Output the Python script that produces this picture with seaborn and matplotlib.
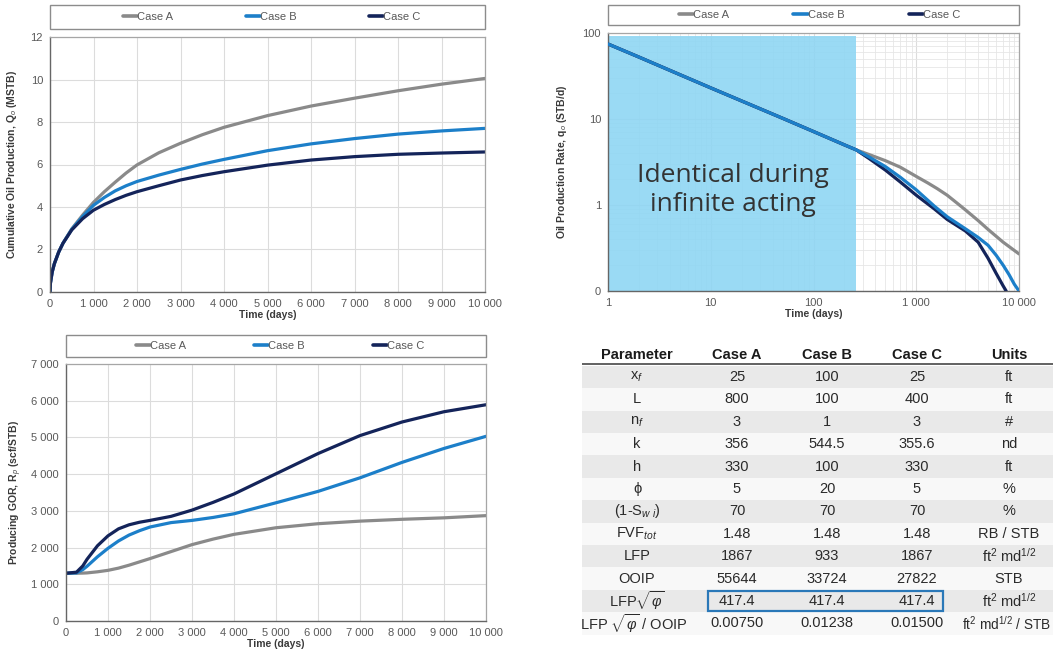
import numpy as np
import pandas as pd
import matplotlib
matplotlib.use("Agg")
import matplotlib.pyplot as plt
import seaborn as sns
from matplotlib.ticker import FuncFormatter, FixedLocator, FixedFormatter, LogLocator, NullFormatter
from matplotlib.patches import Rectangle
from matplotlib.lines import Line2D

# ---------------- data ----------------
cases = ["Case A", "Case B", "Case C"]
colors = {"Case A": "#8a8a8a", "Case B": "#1c7fc9", "Case C": "#14245a"}

# cumulative oil production (MSTB)
cum_t = [0, 10, 50, 100, 200, 300, 500, 750, 1000, 1250, 1500, 1750, 2000, 2500, 3000, 3500, 4000,
         5000, 6000, 7000, 8000, 9000, 10000]
cum_A = [0, 0.42, 0.94, 1.33, 1.88, 2.3, 2.97, 3.62, 4.22, 4.72, 5.17, 5.6, 5.98, 6.55, 7.0, 7.4, 7.75,
         8.3, 8.75, 9.12, 9.47, 9.78, 10.05]
cum_B = [0, 0.42, 0.94, 1.33, 1.88, 2.3, 2.95, 3.55, 4.08, 4.45, 4.76, 5.0, 5.2, 5.5, 5.77, 6.02, 6.24,
         6.65, 6.97, 7.22, 7.43, 7.58, 7.7]
cum_C = [0, 0.42, 0.94, 1.33, 1.88, 2.3, 2.92, 3.45, 3.85, 4.12, 4.35, 4.55, 4.72, 5.0, 5.27, 5.48, 5.66,
         5.97, 6.21, 6.37, 6.48, 6.54, 6.59]

# oil production rate (STB/d), log-log
rate_t_shared = [1, 2, 5, 10, 20, 50, 100, 200, 260]
rate_q_shared = [74.5, 52.5, 32.8, 23.0, 16.2, 10.2, 7.15, 5.0, 4.38]
rate_tA = [350, 500, 700, 1000, 1300, 1600, 2000, 2500, 3000, 4000, 5000, 7000, 10000]
rate_qA = [3.85, 3.28, 2.75, 2.15, 1.8, 1.55, 1.3, 1.05, 0.88, 0.66, 0.52, 0.37, 0.27]
rate_tB = [350, 500, 700, 1000, 1500, 2000, 3000, 4000, 5000, 6000, 7000, 8000, 9000, 10000]
rate_qB = [3.6, 2.8, 2.1, 1.5, 0.97, 0.73, 0.53, 0.42, 0.34, 0.26, 0.2, 0.155, 0.12, 0.1]
rate_tC = [350, 500, 700, 1000, 1500, 2000, 3000, 4000, 5000, 6000, 7000, 7500]
rate_qC = [3.45, 2.55, 1.85, 1.3, 0.9, 0.68, 0.5, 0.37, 0.24, 0.16, 0.115, 0.1]
infinite_acting_end = 260

# producing GOR (scf/STB)
gor_t = [0, 250, 400, 500, 750, 1000, 1250, 1500, 1750, 2000, 2500, 3000, 3500, 4000, 5000, 6000, 7000,
         8000, 9000, 10000]
gor_A = [1300, 1300, 1305, 1310, 1340, 1380, 1440, 1520, 1610, 1700, 1890, 2080, 2230, 2360, 2540, 2650,
         2720, 2770, 2810, 2870]
gor_B = [1300, 1310, 1400, 1490, 1750, 1980, 2180, 2340, 2460, 2560, 2680, 2740, 2820, 2920, 3220, 3530,
         3900, 4320, 4700, 5030]
gor_C = [1300, 1330, 1500, 1680, 2050, 2320, 2510, 2620, 2690, 2740, 2850, 3020, 3230, 3460, 4010, 4560,
         5050, 5420, 5700, 5890]

# table
tbl_header = ["Parameter", "Case A", "Case B", "Case C", "Units"]
tbl_param = [r"x$_f$", "L", r"n$_f$", "k", "h", "ϕ", r"(1-S$_{w\ i}$)", r"FVF$_{tot}$", "LFP", "OOIP",
             r"LFP$\sqrt{\varphi}$", r"LFP $\sqrt{\varphi}$ / OOIP"]
tbl_A = ["25", "800", "3", "356", "330", "5", "70", "1.48", "1867", "55644", "417.4", "0.00750"]
tbl_B = ["100", "100", "1", "544.5", "100", "20", "70", "1.48", "933", "33724", "417.4", "0.01238"]
tbl_C = ["25", "400", "3", "355.6", "330", "5", "70", "1.48", "1867", "27822", "417.4", "0.01500"]
tbl_units = ["ft", "ft", "#", "nd", "ft", "%", "%", "RB / STB", r"ft$^2$ md$^{1/2}$", "STB",
             r"ft$^2$ md$^{1/2}$", r"ft$^2$ md$^{1/2}$ / STB"]

# ---------------- style ----------------
sns.set_style("white")
plt.rcParams["font.family"] = ["Liberation Sans", "DejaVu Sans"]
plt.rcParams["mathtext.fontset"] = "custom"
plt.rcParams["mathtext.rm"] = "Liberation Sans"
plt.rcParams["mathtext.it"] = "Liberation Sans:italic"
plt.rcParams["mathtext.bf"] = "Liberation Sans:bold"

TICK_C = "#595959"
LAB_C = "#3a3a3a"
GRID_C = "#dcdcdc"

W, H = 1053, 656
fig = plt.figure(figsize=(W / 100, H / 100), dpi=100)


def px_axes(x0, y0, x1, y1):
    return fig.add_axes([x0 / W, 1 - y1 / H, (x1 - x0) / W, (y1 - y0) / H])


def thousands(v, p):
    return f"{int(round(v)):,}".replace(",", " ")


def style_axes(ax):
    for s in ["top", "right"]:
        ax.spines[s].set_color("#a6a6a6")
        ax.spines[s].set_linewidth(0.9)
    for s in ["left", "bottom"]:
        ax.spines[s].set_color("#666666")
        ax.spines[s].set_linewidth(1.0)
    ax.tick_params(axis="both", which="major", labelsize=8, colors="#666666", labelcolor=TICK_C,
                   length=3, width=0.8, direction="out", pad=2)
    ax.grid(True, which="major", color=GRID_C, linewidth=0.8)
    ax.set_axisbelow(True)


def add_legend(ax, gap, height, colspacing, xc=0.5):
    ax.add_patch(Rectangle((0, 1 + gap), 1, height, transform=ax.transAxes, fill=False,
                           edgecolor="#8c8c8c", lw=1.0, clip_on=False))
    handles = [Line2D([0], [0], color=colors[c], lw=2.6) for c in cases]
    leg = ax.legend(handles, cases, loc="center", bbox_to_anchor=(xc, 1 + gap + height / 2),
                    ncol=3, frameon=False, fontsize=8, handlelength=1.3,
                    handletextpad=0.0, columnspacing=colspacing, borderaxespad=0, borderpad=0)
    for t in leg.get_texts():
        t.set_color(TICK_C)
    return leg


def long_df(series):
    rows = []
    for name, (tt, vv) in series.items():
        for a, b in zip(tt, vv):
            rows.append((name, a, b))
    return pd.DataFrame(rows, columns=["case", "t", "v"])


# ---------------- top-left: cumulative ----------------
ax1 = px_axes(50, 37, 485, 292)
df1 = long_df({"Case A": (cum_t, cum_A), "Case B": (cum_t, cum_B), "Case C": (cum_t, cum_C)})
sns.lineplot(data=df1, x="t", y="v", hue="case", palette=colors, ax=ax1, linewidth=2.3,
             legend=False, sort=True, estimator=None)
ax1.set_xlim(0, 10000)
ax1.set_ylim(0, 12)
ax1.set_xticks(np.arange(0, 10001, 1000))
ax1.set_yticks(np.arange(0, 13, 2))
ax1.xaxis.set_major_formatter(FuncFormatter(thousands))
style_axes(ax1)
ax1.set_xlabel("Time (days)", fontsize=7.5, fontweight="bold", color=LAB_C, labelpad=1)
ax1.set_ylabel(r"Cumulative Oil Production, Q$_o$ (MSTB)", fontsize=7.5, fontweight="bold",
               color=LAB_C, labelpad=8)
add_legend(ax1, 8 / 255, 24 / 255, 6.5, 0.51)

# ---------------- top-right: rate ----------------
ax2 = px_axes(608, 33, 1019, 291)
tA = rate_t_shared + rate_tA
qA = rate_q_shared + rate_qA
tB = rate_t_shared + rate_tB
qB = rate_q_shared + rate_qB
tC = rate_t_shared + rate_tC
qC = rate_q_shared + rate_qC
ax2.set_xscale("log")
ax2.set_yscale("log")
ax2.fill_between([1, infinite_acting_end], 0.1, 92, color="#8fd6f3", alpha=0.9, zorder=1, linewidth=0)
for name, tt, qq in [("Case A", tA, qA), ("Case C", tC, qC), ("Case B", tB, qB)]:
    d = long_df({name: (tt, qq)})
    sns.lineplot(data=d, x="t", y="v", color=colors[name], ax=ax2, linewidth=2.3,
                 legend=False, sort=True, estimator=None, zorder=3)
ax2.set_xlim(1, 10000)
ax2.set_ylim(0.1, 100)
ax2.xaxis.set_major_locator(FixedLocator([1, 10, 100, 1000, 10000]))
ax2.xaxis.set_major_formatter(FixedFormatter(["1", "10", "100", "1 000", "10 000"]))
ax2.yaxis.set_major_locator(FixedLocator([0.1, 1, 10, 100]))
ax2.yaxis.set_major_formatter(FixedFormatter(["0", "1", "10", "100"]))
ax2.xaxis.set_minor_locator(LogLocator(base=10, subs=np.arange(2, 10)))
ax2.yaxis.set_minor_locator(LogLocator(base=10, subs=np.arange(2, 10)))
ax2.xaxis.set_minor_formatter(NullFormatter())
ax2.yaxis.set_minor_formatter(NullFormatter())
style_axes(ax2)
ax2.grid(True, which="minor", color="#e6e6e6", linewidth=0.6)
ax2.tick_params(axis="both", which="minor", length=2, width=0.6, colors="#666666")
ax2.set_xlabel("Time (days)", fontsize=7.5, fontweight="bold", color=LAB_C, labelpad=1)
ax2.set_ylabel(r"Oil Production Rate, q$_o$ (STB/d)", fontsize=7.5, fontweight="bold",
               color=LAB_C, labelpad=10)
ax2.text(0.304, 0.39, "Identical during\ninfinite acting", transform=ax2.transAxes,
         ha="center", va="center", fontsize=19, color="#333333", family=["Open Sans", "DejaVu Sans"],
         linespacing=1.2, zorder=4)
add_legend(ax2, 8 / 258, 20 / 258, 5.8, 0.515)

# ---------------- bottom-left: GOR ----------------
ax3 = px_axes(66, 364, 486, 621)
df3 = long_df({"Case A": (gor_t, gor_A), "Case B": (gor_t, gor_B), "Case C": (gor_t, gor_C)})
sns.lineplot(data=df3, x="t", y="v", hue="case", palette=colors, ax=ax3, linewidth=2.3,
             legend=False, sort=True, estimator=None)
ax3.set_xlim(0, 10000)
ax3.set_ylim(0, 7000)
ax3.set_xticks(np.arange(0, 10001, 1000))
ax3.set_yticks(np.arange(0, 7001, 1000))
ax3.xaxis.set_major_formatter(FuncFormatter(thousands))
ax3.yaxis.set_major_formatter(FuncFormatter(thousands))
style_axes(ax3)
ax3.set_xlabel("Time (days)", fontsize=7.5, fontweight="bold", color=LAB_C, labelpad=1)
ax3.set_ylabel(r"Producing GOR, R$_p$ (scf/STB)", fontsize=7.5, fontweight="bold",
               color=LAB_C, labelpad=5)
add_legend(ax3, 7 / 257, 22 / 257, 6.1, 0.51)

# ---------------- table ----------------
axt = px_axes(575, 340, 1053, 645)
axt.set_xlim(575, 1053)
axt.set_ylim(645, 340)
axt.axis("off")
col_x = [637, 737, 827, 917, 1009]
header_y = 355
row0 = 377
row_h = 22.4
for j, h in enumerate(tbl_header):
    axt.text(col_x[j], header_y, h, ha="center", va="center", fontsize=10.5, fontweight="bold",
             color="#1a1a1a")
axt.plot([582, 1053], [364, 364], color="#555555", lw=1.3, solid_capstyle="butt")
last = len(tbl_param) - 1
for i in range(len(tbl_param)):
    yc = row0 + i * row_h
    bg = "#e9e9e9" if i % 2 == 0 else "#f8f8f8"
    axt.add_patch(Rectangle((582, yc - row_h / 2), 1053 - 582, row_h, facecolor=bg,
                            edgecolor="none", zorder=0))
    vals = [tbl_param[i], tbl_A[i], tbl_B[i], tbl_C[i], tbl_units[i]]
    for j, v in enumerate(vals):
        x = col_x[j]
        fs = 10.5
        if j == 0 and i == last:
            x = 634
        if j == 4 and i == last:
            x = 1007
            fs = 9.8
        axt.text(x, yc, v, ha="center", va="center", fontsize=fs, color="#2a2a2a", zorder=2)
# highlight box around LFP*sqrt(phi) values
hi = tbl_param.index(r"LFP$\sqrt{\varphi}$")
yc = row0 + hi * row_h
axt.add_patch(Rectangle((708, yc - 10), 235, 20, facecolor="none", edgecolor="#2a78b8",
                        lw=1.6, zorder=3))

fig.savefig("out.png", dpi=100)
